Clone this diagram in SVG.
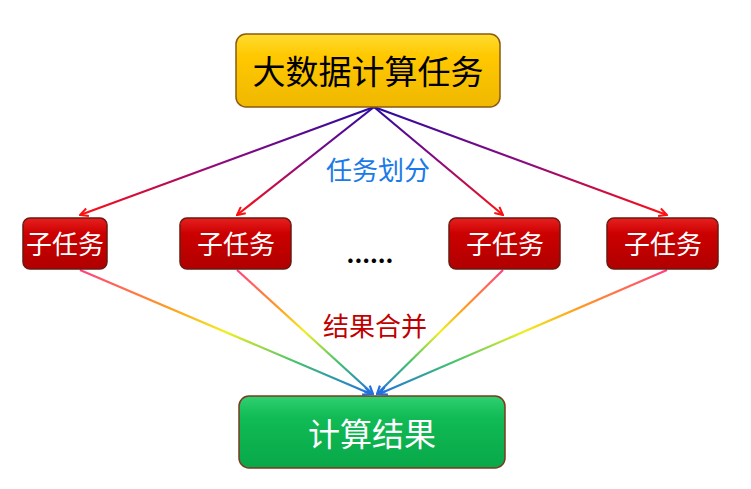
<svg xmlns="http://www.w3.org/2000/svg" width="751" height="489" viewBox="0 0 751 489">
<style>
text{font-family:"Noto Sans CJK SC","Liberation Sans",sans-serif;text-anchor:middle}
.sub rect{fill:url(#gRed);stroke:#6a1a10;stroke-width:1.5}
.sub text{fill:#fff;font-size:26px}
.down{stroke:url(#gDown);stroke-width:2.2;fill:none;marker-end:url(#mRed)}
.up{stroke:url(#gUp);stroke-width:2.2;fill:none;marker-end:url(#mBlue)}
</style>
<defs>
<linearGradient id="gDown" gradientUnits="userSpaceOnUse" x1="0" y1="107" x2="0" y2="215">
<stop offset="0" stop-color="#2a0aa0"/><stop offset="0.5" stop-color="#8a0a80"/><stop offset="1" stop-color="#ff1010"/></linearGradient>
<linearGradient id="gUp" gradientUnits="userSpaceOnUse" x1="0" y1="270" x2="0" y2="394">
<stop offset="0" stop-color="#ff4080"/><stop offset="0.3" stop-color="#ff9a20"/><stop offset="0.5" stop-color="#f0f020"/><stop offset="0.75" stop-color="#40c070"/><stop offset="1" stop-color="#2070e0"/></linearGradient>
<linearGradient id="gRed" x1="0" y1="0" x2="0" y2="1"><stop offset="0" stop-color="#e82020"/><stop offset="0.3" stop-color="#cc0000"/><stop offset="1" stop-color="#b00000"/></linearGradient>
<linearGradient id="gYel" x1="0" y1="0" x2="0" y2="1"><stop offset="0" stop-color="#ffdc30"/><stop offset="0.3" stop-color="#ffc800"/><stop offset="1" stop-color="#f0b800"/></linearGradient>
<linearGradient id="gGrn" x1="0" y1="0" x2="0" y2="1"><stop offset="0" stop-color="#30d070"/><stop offset="0.3" stop-color="#10bb55"/><stop offset="1" stop-color="#08a848"/></linearGradient>
<marker id="mRed" viewBox="0 0 10 10" refX="9" refY="5" markerWidth="10" markerHeight="10" orient="auto" markerUnits="userSpaceOnUse"><path d="M1,1 L9,5 L1,9" fill="none" stroke="#ff1010" stroke-width="2"/></marker>
<marker id="mBlue" viewBox="0 0 10 10" refX="9" refY="5" markerWidth="10" markerHeight="10" orient="auto" markerUnits="userSpaceOnUse"><path d="M1,1 L9,5 L1,9" fill="none" stroke="#2070e0" stroke-width="2.2"/></marker>
</defs>
<g id="connectors">
<line class="down" x1="374" y1="107" x2="80" y2="215"/>
<line class="down" x1="374" y1="107" x2="237" y2="215"/>
<line class="down" x1="374" y1="107" x2="503" y2="215"/>
<line class="down" x1="374" y1="107" x2="667" y2="215"/>
<line class="up" x1="80" y1="270" x2="371" y2="394"/>
<line class="up" x1="237" y1="270" x2="373" y2="394"/>
<line class="up" x1="503" y1="270" x2="377" y2="394"/>
<line class="up" x1="667" y1="270" x2="379" y2="394"/>
</g>
<g id="top"><rect x="236" y="34" width="264" height="73" rx="10" fill="url(#gYel)" stroke="#8a5a10" stroke-width="1.5"/><text x="368" y="84" font-size="33" fill="#000">大数据计算任务</text></g>
<g id="sub1" class="sub"><rect x="23" y="218" width="84" height="51" rx="7"/><text x="65" y="254">子任务</text></g>
<g id="sub2" class="sub"><rect x="180" y="218" width="111" height="51" rx="7"/><text x="236" y="254">子任务</text></g>
<g id="sub3" class="sub"><rect x="449" y="218" width="111" height="51" rx="7"/><text x="505" y="254">子任务</text></g>
<g id="sub4" class="sub"><rect x="607" y="218" width="111" height="51" rx="7"/><text x="663" y="254">子任务</text></g>
<g id="bottom"><rect x="239" y="396" width="266" height="72" rx="10" fill="url(#gGrn)" stroke="#7a3a20" stroke-width="1.5"/><text x="372" y="446" font-size="32" fill="#fff">计算结果</text></g>
<text x="378" y="180" font-size="26" fill="#1a7ae8">任务划分</text>
<text x="375" y="336" font-size="26" fill="#c00000">结果合并</text>
<text x="370" y="263" font-size="24" font-weight="bold" fill="#000" font-family="Liberation Sans,sans-serif">......</text>
</svg>
